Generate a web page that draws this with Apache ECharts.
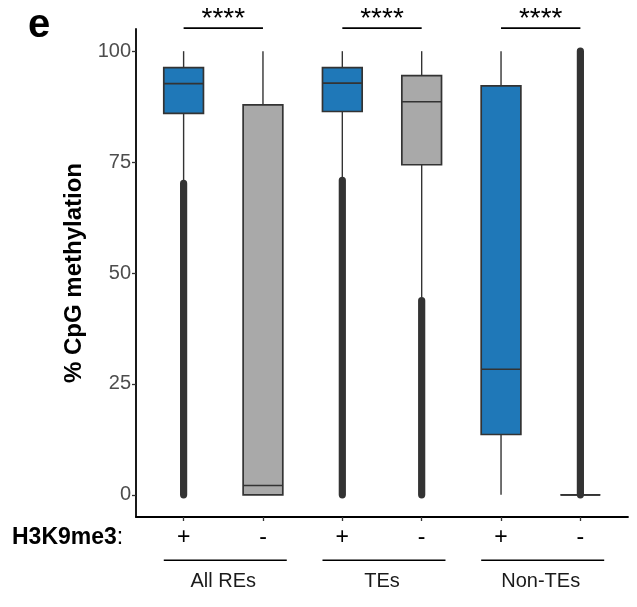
<!DOCTYPE html>
<html><head><meta charset="utf-8">
<script src="https://cdn.jsdelivr.net/npm/echarts@6/dist/echarts.min.js"></script>
<style>html,body{margin:0;padding:0;background:#fff}#c{width:637px;height:607px}</style>
</head><body><div id="c"></div>
<script>
// ---- data ----
const categories = ['+', '-', '+', '-', '+', '-'];          // H3K9me3 status
const groups = ['All REs', 'TEs', 'Non-TEs'];
const whiskerLow  = [70.8, 0,    71.5, 44.5, 0,    0];
const q1          = [86.0, 0,    86.4, 74.4, 13.6, 0];
const median      = [92.7, 2.1,  92.8, 88.6, 28.3, 0];
const q3          = [96.3, 87.9, 96.3, 94.5, 92.2, 0];
const whiskerHigh = [100,  100,  100,  100,  100,  0];
const outlierLow  = [0,    null, 0,    0,    null, 0];
const outlierHigh = [70.2, null, 70.9, 43.8, null, 100];
const yTicks = [0, 25, 50, 75, 100];
const signifLabels = ['****', '****', '****'];
const yTitle = '% CpG methylation';
const markLabel = 'H3K9me3';
const panelLetter = 'e';

// ---- chart ----
const FONT = '"Liberation Sans", Arial, sans-serif';
const BLUE = '#1f78b8', GREY = '#a9a9a9', DARK = '#333333';
const xIdx = categories.map((c, i) => i);
const boxRows = xIdx.map(i => [i, whiskerLow[i], q1[i], median[i], q3[i], whiskerHigh[i]]);
const outRows = xIdx.filter(i => outlierLow[i] !== null).map(i => [i, outlierLow[i], outlierHigh[i]]);
const groupCenters = groups.map((g, k) => 2 * k + 0.5);

const chart = echarts.init(document.getElementById('c'), null, {renderer: 'canvas'});

const option = {
  animation: false,
  backgroundColor: '#fff',
  grid: {left: 136, right: 9, top: 29, bottom: 90, containLabel: false},
  xAxis: [
    {
      type: 'value', min: -0.6, max: 5.6,
      splitLine: {show: false},
      axisLine: {show: true, onZero: false, lineStyle: {color: '#000', width: 1.8}},
      axisTick: {show: true, customValues: xIdx, length: 4, lineStyle: {color: DARK, width: 1.3}},
      axisLabel: {customValues: xIdx, formatter: v => categories[Math.round(v)],
                  fontSize: 23, color: '#000', margin: 9, fontFamily: FONT}
    },
    {
      type: 'value', min: -0.6, max: 5.6, position: 'bottom', offset: 46,
      splitLine: {show: false}, axisLine: {show: false, onZero: false}, axisTick: {show: false},
      axisLabel: {customValues: groupCenters, formatter: v => groups[Math.round((v - 0.5) / 2)],
                  fontSize: 20, color: '#1a1a1a', margin: 8, fontFamily: FONT}
    }
  ],
  yAxis: {
    type: 'value', min: -5, max: 105,
    name: yTitle, nameLocation: 'middle', nameGap: 35, nameRotate: 90,
    nameTextStyle: {fontSize: 24, fontWeight: 'bold', color: '#000', fontFamily: FONT},
    splitLine: {show: false},
    axisLine: {show: true, onZero: false, lineStyle: {color: '#000', width: 1.8}},
    axisTick: {show: true, customValues: yTicks, length: 4, lineStyle: {color: DARK, width: 1.3}},
    axisLabel: {customValues: yTicks, fontSize: 20, color: '#4d4d4d', margin: 5, fontFamily: FONT}
  },
  series: [
    {
      type: 'custom', name: 'outliers', xAxisIndex: 0, data: outRows,
      encode: {x: 0, y: [1, 2]},
      renderItem: function (params, api) {
        const i = api.value(0);
        const pLo = api.coord([i, api.value(1)]);
        const pHi = api.coord([i, api.value(2)]);
        const r = 3.6;
        return {type: 'rect',
          shape: {x: pLo[0] - r, y: pHi[1] - r, width: 2 * r, height: pLo[1] - pHi[1] + 2 * r, r: r},
          style: {fill: DARK}};
      }
    },
    {
      type: 'custom', name: 'boxes', xAxisIndex: 0, data: boxRows,
      encode: {x: 0, y: [1, 2, 3, 4, 5]},
      renderItem: function (params, api) {
        const i = api.value(0);
        const x = api.coord([i, 0])[0];
        const w = api.size([1, 0])[0] * 0.5;
        const yLo = api.coord([i, api.value(1)])[1];
        const yQ1 = api.coord([i, api.value(2)])[1];
        const yMd = api.coord([i, api.value(3)])[1];
        const yQ3 = api.coord([i, api.value(4)])[1];
        const yHi = api.coord([i, api.value(5)])[1];
        const fill = categories[i] === '+' ? BLUE : GREY;
        return {type: 'group', children: [
          {type: 'line', shape: {x1: x, y1: yHi, x2: x, y2: yQ3}, style: {stroke: DARK, lineWidth: 1.4}},
          {type: 'line', shape: {x1: x, y1: yQ1, x2: x, y2: yLo}, style: {stroke: DARK, lineWidth: 1.4}},
          {type: 'rect', shape: {x: x - w / 2, y: yQ3, width: w, height: yQ1 - yQ3},
           style: {fill: fill, stroke: DARK, lineWidth: 1.7}},
          {type: 'line', shape: {x1: x - w / 2, y1: yMd, x2: x + w / 2, y2: yMd},
           style: {stroke: DARK, lineWidth: 1.7}}
        ]};
      }
    }
  ]
};
chart.setOption(option);

// ---- annotations placed through the axes ----
function px(x, y) { return chart.convertToPixel({gridIndex: 0}, [x, y]); }
const g = [];
groups.forEach((name, k) => {
  const a = px(2 * k, 105.2), b = px(2 * k + 1, 105.2);
  g.push({type: 'line', shape: {x1: a[0], y1: a[1], x2: b[0], y2: b[1]}, style: {stroke: '#000', lineWidth: 1.6}});
  const s = px(2 * k + 0.5, 107.2);
  g.push({type: 'text', x: s[0], y: s[1],
          style: {text: signifLabels[k], font: '28px ' + FONT, fill: '#000', textAlign: 'center', textVerticalAlign: 'middle'}});
  const l = px(2 * k - 0.25, -14.75), r = px(2 * k + 1.3, -14.75);
  g.push({type: 'line', shape: {x1: l[0], y1: l[1], x2: r[0], y2: r[1]}, style: {stroke: '#000', lineWidth: 1.6}});
});
g.push({type: 'text', x: 28, y: 26,
        style: {text: panelLetter, font: 'bold 40px ' + FONT, fill: '#000', textAlign: 'left', textVerticalAlign: 'middle'}});
g.push({type: 'text', x: 12, y: 538,
        style: {text: '{b|' + markLabel + '}{n|:}', textAlign: 'left', textVerticalAlign: 'middle',
                rich: {b: {fontSize: 23, fontWeight: 'bold', fontFamily: FONT, fill: '#000', color: '#000'},
                       n: {fontSize: 23, fontFamily: FONT, fill: '#000', color: '#000'}}}});
chart.setOption({graphic: g});
</script></body></html>
